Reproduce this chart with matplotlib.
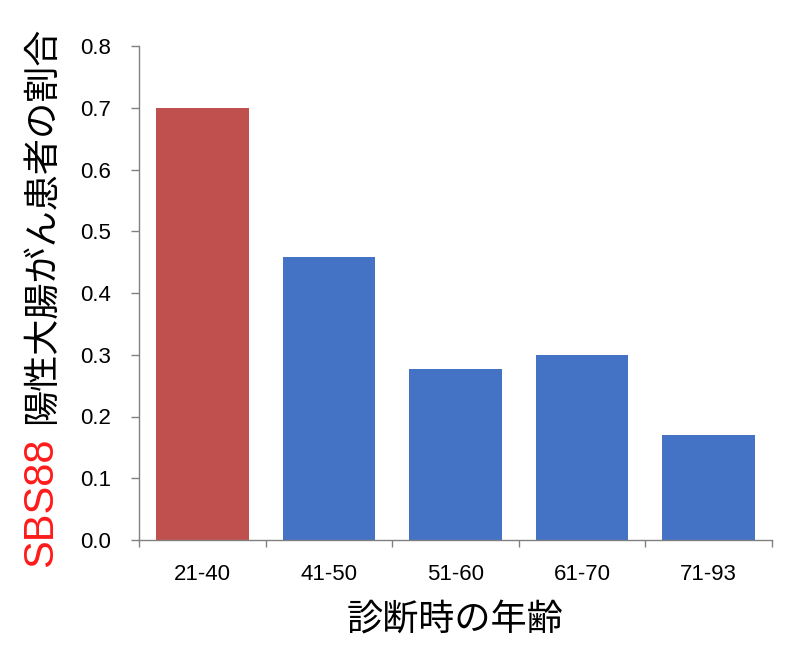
import matplotlib
matplotlib.use("Agg")
import matplotlib.pyplot as plt
import numpy as np

categories = ["21-40", "41-50", "51-60", "61-70", "71-93"]
values = [0.70, 0.458, 0.277, 0.300, 0.170]
colors = ["#C0504D", "#4472C4", "#4472C4", "#4472C4", "#4472C4"]
yticks = [0.0, 0.1, 0.2, 0.3, 0.4, 0.5, 0.6, 0.7, 0.8]
xlabel = "診断時の年齢"
ylabel_red = "SBS88"
ylabel_black = "陽性大腸がん患者の割合"

cjk = ["Noto Sans CJK JP", "DejaVu Sans"]
num = ["Liberation Sans", "DejaVu Sans"]

fig = plt.figure(figsize=(8, 6.65), dpi=100)
ax = fig.add_axes([139/800, 1-540/665, (772-139)/800, (540-46)/665])

x = np.arange(len(categories))
ax.bar(x, values, width=0.73, color=colors)
ax.set_xlim(-0.5, len(categories)-0.5)
ax.set_ylim(0, 0.8)

ax.set_yticks(yticks)
ax.set_yticklabels([f"{t:.1f}" for t in yticks], fontfamily=num, fontsize=16)
ax.set_xticks(x)
ax.set_xticklabels(categories, fontfamily=num, fontsize=16)
ax.set_xticks(np.arange(-0.5, len(categories), 1.0), minor=True)
ax.tick_params(axis="x", which="major", length=0, pad=17)
ax.tick_params(axis="x", which="minor", length=5, color="#808080", width=1)
ax.tick_params(axis="y", length=6, color="#808080", width=1, pad=14)

for s in ["top", "right"]:
    ax.spines[s].set_visible(False)
for s in ["left", "bottom"]:
    ax.spines[s].set_color("#808080")
    ax.spines[s].set_linewidth(1)

ax.set_xlabel(xlabel, fontfamily=cjk, fontsize=26, labelpad=12)

fig.text(41/800, 1-567/665, ylabel_red, rotation=90, color="#FF1A1A",
         fontfamily=num, fontsize=30, ha="center", va="bottom")
fig.text(42/800, 1-424/665, ylabel_black, rotation=90, color="black",
         fontfamily=cjk, fontsize=26, ha="center", va="bottom")

fig.savefig("out.png", dpi=100, facecolor="white")
